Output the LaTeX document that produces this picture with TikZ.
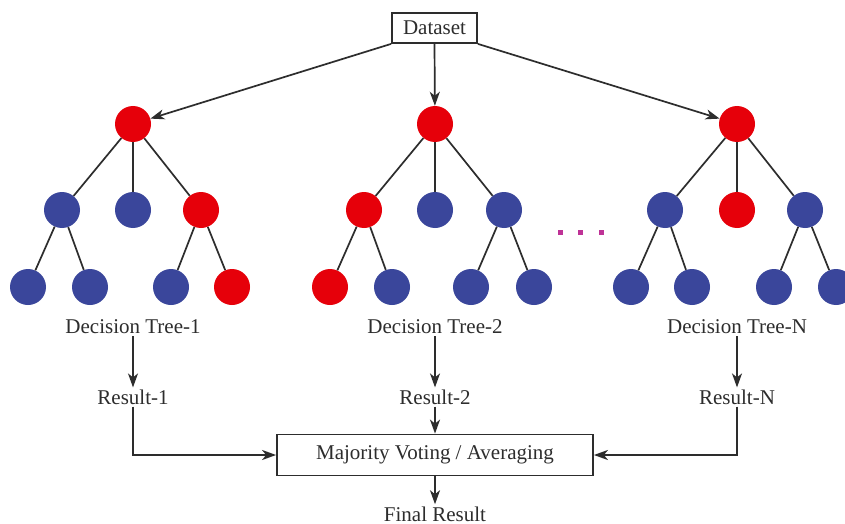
\documentclass[tikz,border=0pt]{standalone}
\usepackage{fontspec}
\setmainfont{Liberation Serif}
\usetikzlibrary{arrows.meta}
\definecolor{nred}{RGB}{230,0,10}
\definecolor{nblue}{RGB}{58,70,155}
\definecolor{dotc}{RGB}{190,50,150}
\definecolor{ink}{RGB}{45,45,45}
\begin{document}
\begin{tikzpicture}[x=1pt,y=-1pt,
  rnode/.style={circle,fill=nred,minimum size=36pt,inner sep=0pt},
  bnode/.style={circle,fill=nblue,minimum size=36pt,inner sep=0pt},
  edge/.style={draw=ink,line width=1.7pt},
  arr/.style={draw=ink,line width=1.7pt,-{Stealth[length=14pt,width=10pt,inset=4pt]}},
  lbl/.style={font=\fontsize{21}{25}\selectfont,text=ink,inner sep=2pt},
  boxed/.style={lbl,draw=ink,line width=1.8pt,inner sep=0pt},
  dotsq/.style={fill=dotc,minimum size=5pt,inner sep=0pt}
]
\useasboundingbox (0,0) rectangle (845,524);
\clip (0,0) rectangle (845,524);
\fill[white] (0,0) rectangle (845,524);

% dataset
\node[boxed,minimum width=85pt,minimum height=30pt] (ds) at (434.5,28) {Dataset};

% tree 1
\node[rnode] (a) at (133,124) {};
\node[bnode] (a1) at (62,210) {};
\node[bnode] (a2) at (133,210) {};
\node[rnode] (a3) at (201,210) {};
\node[bnode] (a11) at (28,287) {};
\node[bnode] (a12) at (90,287) {};
\node[bnode] (a31) at (171,287) {};
\node[rnode] (a32) at (232,287) {};

% tree 2
\node[rnode] (b) at (435,124) {};
\node[rnode] (b1) at (364,210) {};
\node[bnode] (b2) at (435,210) {};
\node[bnode] (b3) at (504,210) {};
\node[rnode] (b11) at (330,287) {};
\node[bnode] (b12) at (392,287) {};
\node[bnode] (b31) at (471,287) {};
\node[bnode] (b32) at (534,287) {};

% tree N
\node[rnode] (c) at (737,124) {};
\node[bnode] (c1) at (665,210) {};
\node[rnode] (c2) at (737,210) {};
\node[bnode] (c3) at (805,210) {};
\node[bnode] (c11) at (631,287) {};
\node[bnode] (c12) at (692,287) {};
\node[bnode] (c31) at (774,287) {};
\node[bnode] (c32) at (836,287) {};

\foreach \t in {a,b,c}{
  \draw[edge] (\t) -- (\t1);
  \draw[edge] (\t) -- (\t2);
  \draw[edge] (\t) -- (\t3);
  \draw[edge] (\t1) -- (\t11);
  \draw[edge] (\t1) -- (\t12);
  \draw[edge] (\t3) -- (\t31);
  \draw[edge] (\t3) -- (\t32);
}

% dataset arrows
\draw[arr] (ds.south west) -- (a);
\draw[arr] (ds.south) -- (b);
\draw[arr] (ds.south east) -- (c);

% dots
\node[dotsq] (d1) at (560,232) {};
\node[dotsq] (d2) at (580,232) {};
\node[dotsq] (d3) at (601,232) {};

% labels
\node[lbl] (t1) at (133,327) {Decision Tree-1};
\node[lbl] (t2) at (435,327) {Decision Tree-2};
\node[lbl] (t3) at (737,327) {Decision Tree-N};

\node[lbl] (r1) at (133,397) {Result-1};
\node[lbl] (r2) at (435,397) {Result-2};
\node[lbl] (r3) at (737,397) {Result-N};

\draw[arr] (t1.south) -- (r1.north);
\draw[arr] (t2.south) -- (r2.north);
\draw[arr] (t3.south) -- (r3.north);

\node[boxed,minimum width=316pt,minimum height=41pt] (maj) at (435,455) {Majority Voting / Averaging};

\draw[arr] (r1.south) |- (maj.west);
\draw[arr] (r2.south) -- (maj.north);
\draw[arr] (r3.south) |- (maj.east);

\node[lbl,anchor=base] (fin) at (435,521) {Final Result};
\draw[arr] (maj.south) -- (fin.north);
\end{tikzpicture}
\end{document}
